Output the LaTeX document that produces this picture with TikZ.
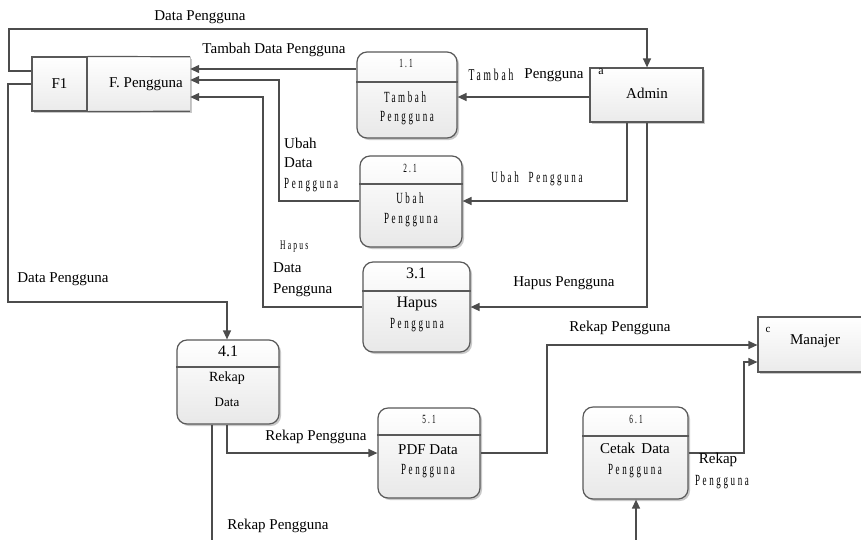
\documentclass[tikz,border=0pt]{standalone}
\usepackage{fontspec}
\setmainfont{Liberation Serif}
\newfontfamily\smf[LetterSpace=17,FakeStretch=0.58]{Liberation Serif}
\usetikzlibrary{arrows.meta,shadows}
\begin{document}
\begin{tikzpicture}[x=1pt,y=-1pt,
  font=\fontsize{15}{17}\selectfont,
  shd/.style={drop shadow={shadow xshift=2pt,shadow yshift=-2pt,fill=black!35,opacity=0.6}},
  proc/.style={draw=black!65, line width=1.2pt, rounded corners=10pt, top color=white, bottom color=black!9, shd},
  ent/.style={draw=black!65, line width=1.2pt, top color=white, bottom color=black!8, shd},
  storebg/.style={draw=none, top color=white, bottom color=black!8, shd},
  sep/.style={draw=black!65, line width=1.2pt},
  flow/.style={draw=black!70, line width=1.3pt, -{Triangle[length=9pt,width=8pt]}},
  plain/.style={draw=black!70, line width=1.3pt},
  sm/.style={font=\smf\fontsize{15.5}{17}\selectfont, inner sep=0pt},
  num/.style={font=\smf\fontsize{12.5}{14}\selectfont, inner sep=0pt},
  tx/.style={inner sep=0pt},
]
\useasboundingbox (0,0) rectangle (861,539);
\fill[white] (0,0) rectangle (861,539);

% ---- data store F1
\node[storebg, minimum width=158, minimum height=54, inner sep=0pt] (fs) at (111,84) {};
\node[draw=black!65, line width=1.2pt, minimum width=55, minimum height=54, inner sep=0pt] (f1) at (59.5,84) {};
\draw[sep] (f1.north east) -- (fs.north east);
\draw[sep] (f1.south east) -- (fs.south east);
\draw[draw=black!25, line width=1pt] (fs.north east) -- (fs.south east);
\node[tx] (f1t) at (59.5,84) {F1};
\node[tx] (fpt) at (146,84) {F. Pengguna};

% ---- external entities
\node[ent, minimum width=113, minimum height=54, inner sep=0pt] (admin) at (646.5,95) {};
\node[tx] (admint) at (647,93) {Admin};
\node[tx, font=\fontsize{12}{13}\selectfont] (adma) at (601,72) {a};

\node[ent, minimum width=108, minimum height=55, inner sep=0pt] (man) at (812,344.5) {};
\node[tx] (mant) at (815,341) {Manajer};
\node[tx, font=\fontsize{11}{12}\selectfont] (manc) at (768,330) {c};

% ---- processes
% 1.1
\node[proc, minimum width=100, minimum height=86, inner sep=0pt] (p11) at (407,95) {};
\draw[sep] (p11.west |- 0,82) -- (p11.east |- 0,82);
\node[num] (p11n) at (406,63) {1.1};
\node[sm] (p11a) at (405,97) {Tambah};
\node[sm] (p11b) at (407,118) {Pengguna};
% 2.1
\node[proc, minimum width=102, minimum height=91, inner sep=0pt] (p21) at (411,201.5) {};
\draw[sep] (p21.west |- 0,184) -- (p21.east |- 0,184);
\node[num] (p21n) at (410,168) {2.1};
\node[sm] (p21a) at (410,198) {Ubah};
\node[sm] (p21b) at (411,220) {Pengguna};
% 3.1
\node[proc, minimum width=107, minimum height=90, inner sep=0pt] (p31) at (416.5,307) {};
\draw[sep] (p31.west |- 0,291) -- (p31.east |- 0,291);
\node[tx, font=\fontsize{16}{18}\selectfont] (p31n) at (416,273) {3.1};
\node[tx, font=\fontsize{16}{18}\selectfont] (p31a) at (417,304) {Hapus};
\node[sm] (p31b) at (417,325) {Pengguna};
% 4.1
\node[proc, minimum width=102, minimum height=84, inner sep=0pt] (p41) at (228,382) {};
\draw[sep] (p41.west |- 0,367) -- (p41.east |- 0,367);
\node[tx, font=\fontsize{16}{18}\selectfont] (p41n) at (228,351) {4.1};
\node[tx, font=\fontsize{14}{16}\selectfont] (p41a) at (227,378) {Rekap};
\node[tx, font=\fontsize{13}{15}\selectfont] (p41b) at (227,402) {Data};
% 5.1
\node[proc, minimum width=102, minimum height=90, inner sep=0pt] (p51) at (429,453) {};
\draw[sep] (p51.west |- 0,435) -- (p51.east |- 0,435);
\node[num] (p51n) at (429,419) {5.1};
\node[tx] (p51a) at (428,450) {PDF Data};
\node[sm] (p51b) at (428,471) {Pengguna};
% 6.1
\node[proc, minimum width=105, minimum height=92, inner sep=0pt] (p61) at (635.5,453) {};
\draw[sep] (p61.west |- 0,436) -- (p61.east |- 0,436);
\node[num] (p61n) at (636,419) {6.1};
\node[tx] (p61a) at (635,448) {Cetak\, Data};
\node[sm] (p61b) at (635,471) {Pengguna};

% ---- free ends
\coordinate (b41) at (212,545);
\coordinate (b61) at (636,545);

% ---- connectors
\draw[flow] (f1.west |- 0,71) -- (9,71) -- (9,29) -- (647,29) -- (admin.north -| 647,0);
\draw[flow] (f1.west |- 0,84) -- (8,84) -- (8,302) -- (227,302) -- (p41.north -| 227,0);
\draw[flow] (p11.west |- 0,69) -- (fs.east |- 0,69);
\draw[flow] (p21.west |- 0,201) -- (279,201) -- (279,80) -- (fs.east |- 0,80);
\draw[flow] (p31.west |- 0,307) -- (263,307) -- (263,97) -- (fs.east |- 0,97);
\draw[flow] (admin.west |- 0,97) -- (p11.east |- 0,97);
\draw[flow] (admin.south -| 627,0) -- (627,201) -- (p21.east |- 0,201);
\draw[flow] (admin.south -| 647,0) -- (647,307) -- (p31.east |- 0,307);
\draw[flow] (p41.south -| 227,0) -- (227,453) -- (p51.west |- 0,453);
\draw[plain] (p41.south -| 212,0) -- (b41);
\draw[flow] (p51.east |- 0,453) -- (547,453) -- (547,345) -- (man.west |- 0,345);
\draw[flow] (p61.east |- 0,453) -- (744,453) -- (744,362) -- (man.west |- 0,362);
\draw[flow] (b61) -- (p61.south -| 636,0);

% ---- labels
\node[tx] (l1) at (200,17) {Data Pengguna};
\node[tx] (l2) at (274,50) {Tambah Data Pengguna};
\node[sm, font=\smf\fontsize{16.5}{18}\selectfont] (l3a) at (491,75) {Tambah};
\node[tx] (l3b) at (554,75) {Pengguna};
\node[sm] (l4) at (537,179) {Ubah\ \ Pengguna};
\node[tx, anchor=west] (l5a) at (284,143) {Ubah};
\node[tx, anchor=west] (l5b) at (284,163) {Data};
\node[sm, anchor=west] (l5c) at (284,185) {Pengguna};
\node[sm, anchor=west, font=\smf\fontsize{13}{14}\selectfont] (l6a) at (280,247) {Hapus};
\node[tx, anchor=west] (l6b) at (273,268) {Data};
\node[tx, anchor=west] (l6c) at (273,290) {Pengguna};
\node[tx] (l7) at (564,283) {Hapus Pengguna};
\node[tx] (l8) at (63,279) {Data Pengguna};
\node[tx] (l9) at (316,437) {Rekap Pengguna};
\node[tx] (l10) at (278,526) {Rekap Pengguna};
\node[tx] (l11) at (620,328) {Rekap Pengguna};
\node[tx] (l12a) at (718,460) {Rekap};
\node[sm] (l12b) at (722,482) {Pengguna};
\end{tikzpicture}
\end{document}
